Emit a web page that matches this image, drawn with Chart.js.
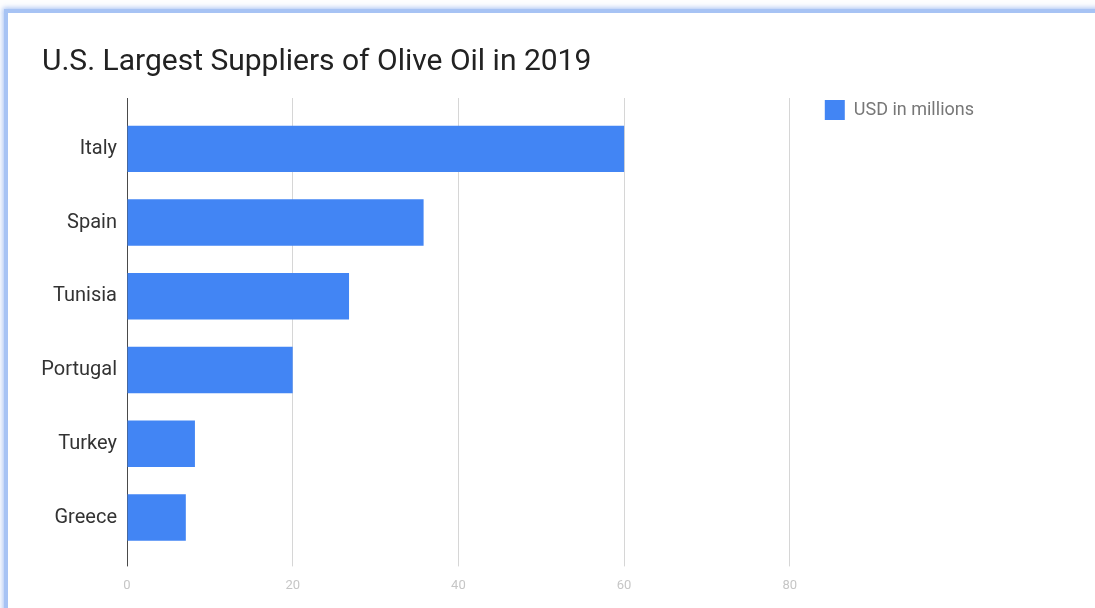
<!DOCTYPE html>
<html>
<head>
<meta charset="utf-8">
<script src="https://cdn.jsdelivr.net/npm/chart.js@4"></script>
<style>
  html, body { margin: 0; padding: 0; background: #fdfdfe; overflow: hidden; }
  .card {
    position: absolute; left: 4px; top: 9px; width: 1200px; height: 700px;
    background: #fff;
    border-left: 4px solid #a7c3f4; border-top: 4px solid #a7c3f4;
    box-shadow: -1px -1px 5px rgba(140, 175, 240, 0.8);
  }
  #grafico { position: absolute; left: 8px; top: 13px; }
</style>
</head>
<body>
<div class="card"></div>
<canvas id="grafico" width="1087" height="595"></canvas>
<script>
// datos del grafico
const proveedores = ["Italy", "Spain", "Tunisia", "Portugal", "Turkey", "Greece"];
const usdMillones = [60, 35.8, 26.8, 20, 8.2, 7.1];
const ticksX = [0, 20, 40, 60, 80];
const etiquetaSerie = "USD in millions";
const titulo = "U.S. Largest Suppliers of Olive Oil in 2019";

const ctx = document.getElementById("grafico").getContext("2d");
Chart.defaults.font.family = "Roboto, 'Noto Sans', sans-serif";

// color del eje en 0 mas oscuro que las otras lineas
const colorGrilla = (c) => (c.tick && c.tick.value === 0 ? "#4a4a4a" : "#d6d6d6");

const grafico = new Chart(ctx, {
  type: "bar",
  data: {
    labels: proveedores,
    datasets: [
      {
        label: etiquetaSerie,
        data: usdMillones,
        backgroundColor: "#4285f4",
        borderWidth: 0,
        categoryPercentage: 1,
        barPercentage: 0.63,
      },
    ],
  },
  options: {
    indexAxis: "y",
    responsive: false,
    animation: false,
    layout: { padding: { left: 34, right: 111, top: 14, bottom: 2 } },
    plugins: {
      title: {
        display: true,
        text: titulo,
        align: "start",
        color: "#222",
        font: { size: 30, weight: "normal" },
        padding: { top: 17, bottom: 18 },
      },
      legend: {
        position: "right",
        align: "start",
        // titulo vacio solo para bajar la leyenda
        title: { display: true, text: " ", font: { size: 10 }, padding: { top: 26, bottom: 0 } },
        labels: {
          boxWidth: 20,
          boxHeight: 20,
          color: "#777",
          font: { size: 18 },
          padding: 35,
        },
      },
      tooltip: { enabled: false },
    },
    scales: {
      x: {
        min: 0,
        max: 80,
        afterBuildTicks: (s) => { s.ticks = ticksX.map((v) => ({ value: v })); },
        grid: { color: colorGrilla, tickLength: 12, lineWidth: 1 },
        border: { display: false },
        ticks: { color: "#c6c6c6", font: { size: 13 }, padding: 12 },
      },
      x2: {
        position: "top",
        min: 0,
        max: 80,
        afterBuildTicks: (s) => { s.ticks = ticksX.map((v) => ({ value: v })); },
        grid: { color: colorGrilla, tickLength: 14, drawOnChartArea: false },
        border: { display: false },
        ticks: { display: false },
        afterFit: (s) => { s.height = 14; },
      },
      y: {
        grid: { display: false },
        border: { display: false },
        ticks: { color: "#333", font: { size: 20 }, padding: 2 },
        afterFit: (s) => { s.width = 85; },
      },
    },
  },
});
</script>
</body>
</html>
